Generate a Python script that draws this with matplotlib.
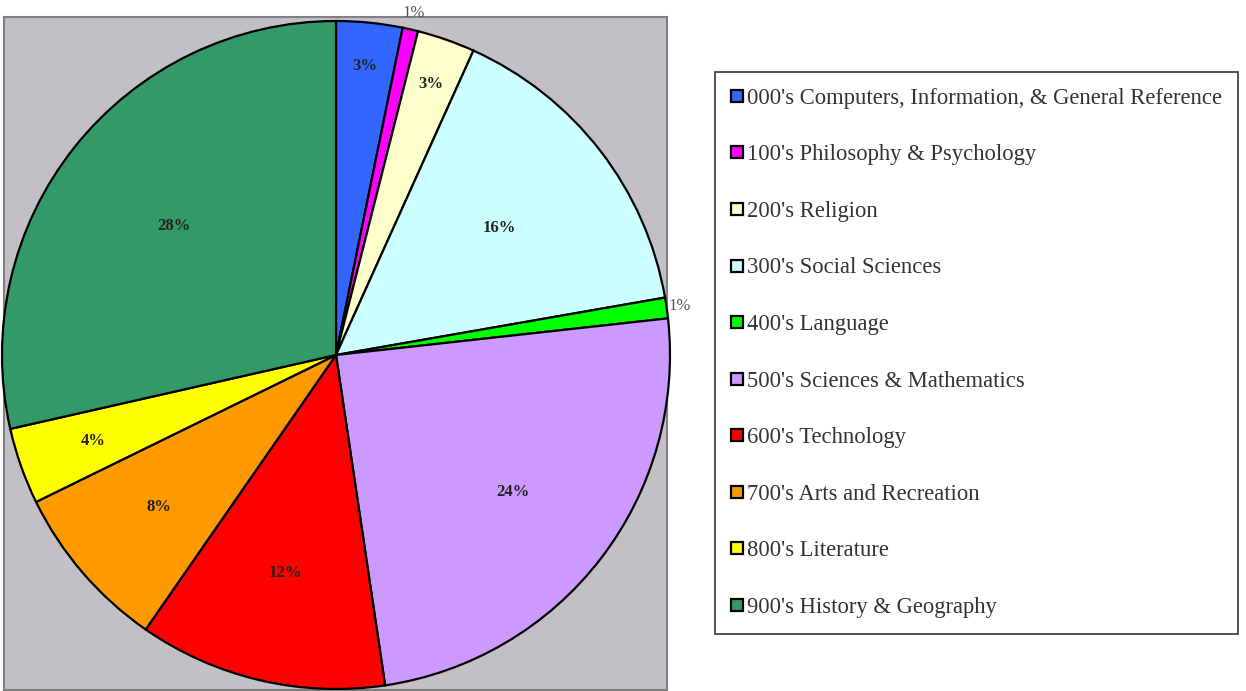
import numpy as np
import matplotlib.pyplot as plt
from matplotlib.lines import Line2D

# Data (share of collection, percent)
categories = [
    "000's Computers, Information, & General Reference",
    "100's Philosophy & Psychology",
    "200's Religion",
    "300's Social Sciences",
    "400's Language",
    "500's Sciences & Mathematics",
    "600's Technology",
    "700's Arts and Recreation",
    "800's Literature",
    "900's History & Geography",
]
shares = [3.2, 0.75, 2.8, 15.5, 1.0, 24.4, 12.0, 8.1, 3.7, 28.55]
pct_labels = ['3%', '1%', '3%', '16%', '1%', '24%', '12%', '8%', '4%', '28%']

colors = ['#3366FF', '#FF00FF', '#FFFFCC', '#CCFFFF', '#00FF00',
          '#CC99FF', '#FF0000', '#FF9900', '#FFFF00', '#339966']
# radial position of each percentage label (fraction of radius)
label_r = [0.87, 1.05, 0.86, 0.62, 1.04, 0.67, 0.67, 0.70, 0.77, 0.62]

plt.rcParams['font.family'] = ['Liberation Serif', 'DejaVu Serif']

W, H = 1246, 691
fig = plt.figure(figsize=(W / 100, H / 100), dpi=100)

# gray plot area
bg = fig.add_axes([4 / W, 1 - 690 / H, 663 / W, 673 / H])
bg.set_facecolor('#C3C0C5')
bg.set_xticks([])
bg.set_yticks([])
for s in bg.spines.values():
    s.set_color('#808080')
    s.set_linewidth(1.5)

# pie axes
R = 334
cx, cy = 336, 355
ax = fig.add_axes([(cx - R) / W, 1 - (cy + R) / H, 2 * R / W, 2 * R / H])
ax.set_axis_off()
wedges, _ = ax.pie(shares, colors=colors, startangle=90, counterclock=False,
                   wedgeprops=dict(edgecolor='black', linewidth=1.6))
ax.set_xlim(-1, 1)
ax.set_ylim(-1, 1)

for w, lab, r in zip(wedges, pct_labels, label_r):
    ang = np.deg2rad((w.theta1 + w.theta2) / 2)
    x, y = r * np.cos(ang), r * np.sin(ang)
    outside = r > 1
    ax.text(x, y, lab, ha='center', va='center', fontsize=12,
            fontweight='normal' if outside else 'bold',
            color='#555555' if outside else '#222222', clip_on=False)

# legend
handles = [Line2D([], [], marker='s', linestyle='none', markersize=8,
                  markerfacecolor=c, markeredgecolor='black', markeredgewidth=1.6)
           for c in colors]
leg = fig.legend(handles, categories, loc='upper left',
                 bbox_to_anchor=(715 / W, 1 - 72 / H), fontsize=16.3,
                 frameon=True, fancybox=False, edgecolor='black',
                 labelspacing=1.57, handlelength=0.55, handletextpad=0.15,
                 borderpad=0.7, borderaxespad=0)
leg.get_frame().set_linewidth(1.2)
for t in leg.get_texts():
    t.set_color('#333333')

fig.savefig('out.png', dpi=100)
